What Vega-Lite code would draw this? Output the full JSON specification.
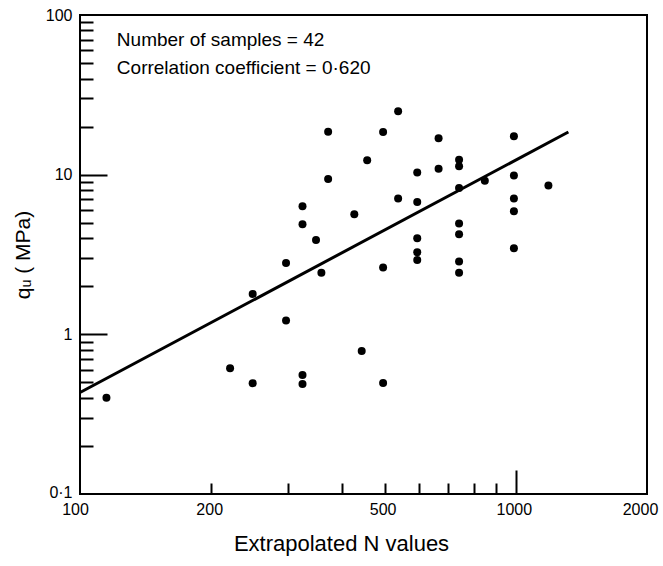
{
  "$schema": "https://vega.github.io/schema/vega-lite/v6.json",
  "width": 567,
  "height": 479,
  "autosize": "none",
  "padding": {"left": 80, "top": 15, "right": 16, "bottom": 72},
  "background": "white",
  "view": {"stroke": "black", "strokeWidth": 2},
  "config": {"font": "Liberation Sans"},
  "datasets": {
    "points": [
      {"N": 115, "q": 0.40},
      {"N": 537, "q": 25},
      {"N": 371, "q": 18.6},
      {"N": 496, "q": 18.5},
      {"N": 665, "q": 16.9},
      {"N": 456, "q": 12.3},
      {"N": 594, "q": 10.3},
      {"N": 665, "q": 10.9},
      {"N": 371, "q": 9.4},
      {"N": 324, "q": 6.35},
      {"N": 537, "q": 7.1},
      {"N": 594, "q": 6.75},
      {"N": 426, "q": 5.65},
      {"N": 324, "q": 4.9},
      {"N": 348, "q": 3.9},
      {"N": 594, "q": 4.0},
      {"N": 594, "q": 3.27},
      {"N": 594, "q": 2.92},
      {"N": 297, "q": 2.8},
      {"N": 358, "q": 2.43},
      {"N": 496, "q": 2.62},
      {"N": 249, "q": 1.79},
      {"N": 297, "q": 1.22},
      {"N": 443, "q": 0.785},
      {"N": 221, "q": 0.613},
      {"N": 249, "q": 0.494},
      {"N": 324, "q": 0.556},
      {"N": 324, "q": 0.489},
      {"N": 496, "q": 0.496},
      {"N": 990, "q": 17.4},
      {"N": 741, "q": 12.4},
      {"N": 741, "q": 11.3},
      {"N": 849, "q": 9.15},
      {"N": 990, "q": 9.87},
      {"N": 1188, "q": 8.56},
      {"N": 741, "q": 8.24},
      {"N": 990, "q": 7.1},
      {"N": 990, "q": 5.89},
      {"N": 741, "q": 4.94},
      {"N": 741, "q": 4.24},
      {"N": 990, "q": 3.46},
      {"N": 741, "q": 2.86},
      {"N": 741, "q": 2.43}
    ],
    "fit": [
      {"N": 100, "q": 0.432},
      {"N": 1320, "q": 18.5}
    ],
    "notes": [
      {"N": 121.5, "q": 63.5, "text": "Number of samples = 42"},
      {"N": 121.5, "q": 42.7, "text": "Correlation coefficient = 0·620"}
    ]
  },
  "encoding": {
    "x": {
      "field": "N",
      "type": "quantitative",
      "scale": {"type": "log", "domain": [100, 2000], "nice": false},
      "axis": {
        "title": "Extrapolated N values",
        "values": [100, 200, 300, 400, 500, 600, 700, 800, 900, 1000, 2000],
        "format": "d",
        "labelExpr": "indexof([100,200,500,1000,2000], datum.value) >= 0 ? datum.label : ''",
        "domain": false,
        "grid": false,
        "tickColor": "black",
        "tickWidth": 2,
        "tickSize": {"condition": [{"test": "datum.value == 1000", "value": -24}, {"test": "datum.value == 100 || datum.value == 2000", "value": 0}], "value": -11},
        "labelPadding": {"condition": [{"test": "datum.value == 1000", "value": 31}, {"test": "datum.value == 100 || datum.value == 2000", "value": 7}], "value": 18},
        "labelOffset": {"condition": [{"test": "datum.value == 2000", "value": -7}, {"test": "datum.value == 100", "value": -5}], "value": -2},
        "labelFont": "Liberation Sans",
        "labelFontSize": 16,
        "labelColor": "black",
        "labelFlush": false,
        "labelOverlap": false,
        "titleFont": "Liberation Sans",
        "titleFontSize": 22,
        "titleFontWeight": "normal",
        "titleColor": "black",
        "titleX": 261,
        "titleY": 56,
        "titleBaseline": "alphabetic"
      }
    },
    "y": {
      "field": "q",
      "type": "quantitative",
      "scale": {"type": "log", "domain": [0.1, 100], "nice": false},
      "axis": {
        "title": "qᵤ ( MPa)",
        "values": [0.1, 0.2, 0.3, 0.4, 0.5, 0.6, 0.7, 0.8, 0.9, 1, 2, 3, 4, 5, 6, 7, 8, 9, 10, 20, 30, 40, 50, 60, 70, 80, 90, 100],
        "labelExpr": "datum.value == 0.1 ? '0·1' : ((datum.value == 1 || datum.value == 10 || datum.value == 100) ? format(datum.value, 'd') : '')",
        "domain": false,
        "grid": false,
        "tickColor": "black",
        "tickWidth": 2,
        "tickSize": {"condition": [{"test": "datum.value == 1 || datum.value == 10", "value": -27}, {"test": "datum.value == 0.1 || datum.value == 100", "value": 0}], "value": -13},
        "labelPadding": {"condition": [{"test": "datum.value == 1 || datum.value == 10", "value": 35}, {"test": "datum.value == 0.1 || datum.value == 100", "value": 8}], "value": 21},
        "labelOffset": {"condition": [{"test": "datum.value == 0.1", "value": -2}], "value": 0},
        "labelFont": "Liberation Sans",
        "labelFontSize": 16,
        "labelColor": "black",
        "labelFlush": false,
        "labelOverlap": false,
        "titleFont": "Liberation Sans",
        "titleFontSize": 21,
        "titleFontWeight": "normal",
        "titleColor": "black",
        "titlePadding": 12
      }
    }
  },
  "layer": [
    {
      "data": {"name": "points"},
      "mark": {"type": "circle", "size": 64, "color": "black", "opacity": 1}
    },
    {
      "data": {"name": "fit"},
      "mark": {"type": "line", "color": "black", "strokeWidth": 3}
    },
    {
      "data": {"name": "notes"},
      "mark": {"type": "text", "align": "left", "baseline": "alphabetic", "font": "Liberation Sans", "fontSize": 19, "color": "black"},
      "encoding": {"text": {"field": "text", "type": "nominal"}}
    }
  ]
}
